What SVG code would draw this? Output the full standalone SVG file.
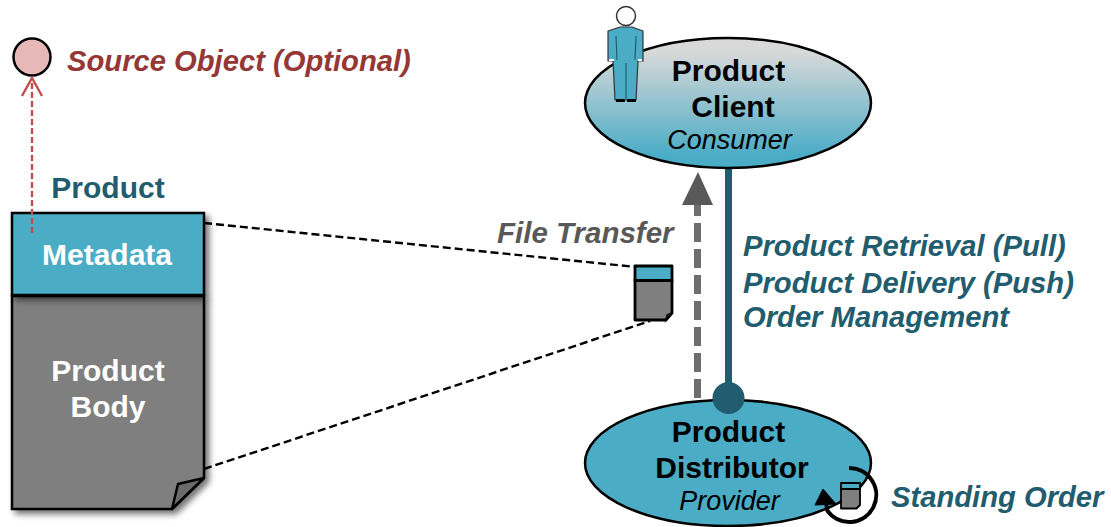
<svg xmlns="http://www.w3.org/2000/svg" width="1111" height="527" viewBox="0 0 1111 527">
<style>
text{font-family:"Liberation Sans",Arial,sans-serif}
.b{font-weight:700;font-size:30px;fill:#000;text-anchor:middle}
.i{font-style:italic;font-size:27px;fill:#000;text-anchor:middle}
.w{font-weight:700;font-size:30px;fill:#fff;text-anchor:middle}
.t{font-weight:700;font-style:italic;font-size:29.200px;fill:#215d6e}
</style>
<defs>
<linearGradient id="g" x1="0" y1="0" x2="0" y2="1"><stop offset="0.1" stop-color="#d9d9d9"/><stop offset="0.9" stop-color="#4bacc6"/></linearGradient>
<filter id="s" x="-10%" y="-10%" width="125%" height="125%"><feGaussianBlur in="SourceAlpha" stdDeviation="3"/><feOffset dx="4" dy="4"/><feComponentTransfer><feFuncA type="linear" slope="0.55"/></feComponentTransfer><feMerge><feMergeNode/><feMergeNode in="SourceGraphic"/></feMerge></filter>
<marker id="o" markerUnits="userSpaceOnUse" markerWidth="24" markerHeight="24" refX="21" refY="11" orient="auto"><path d="M3 1L21 11L3 21" fill="none" stroke="#c0504d" stroke-width="2.400"/></marker>
</defs>
<g id="connectors">
<path d="M204 223L636 267M204 469L650 321" fill="none" stroke="#000" stroke-width="2.400" stroke-dasharray="8 4"/>
<path d="M697.500 398V200" fill="none" stroke="#6e6e6e" stroke-width="7" stroke-dasharray="19 7"/>
<path d="M698 172L682 205H713Z" fill="#595959"/>
<path d="M728.500 168V392" fill="none" stroke="#215d6e" stroke-width="7"/>
</g>
<g id="source-object">
<circle cx="32" cy="57" r="18.500" fill="#e6b8b7" stroke="#000" stroke-width="2.500"/>
<text x="67" y="70.500" class="t" style="fill:#953735">Source Object (Optional)</text>
</g>
<g id="product">
<text x="108" y="197.500" class="b" style="fill:#215d6e">Product</text>
<path d="M12 296H204V478L172 509H12Z" fill="#7f7f7f" stroke="#000" stroke-width="2.500" filter="url(#s)"/>
<path d="M172 509L178 484L204 478Z" fill="#6b6b6b" stroke="#000" stroke-width="2.500" stroke-linejoin="round"/>
<rect x="12" y="213" width="192" height="82" fill="#4bacc6" stroke="#000" stroke-width="2.500" filter="url(#s)"/>
<text x="107" y="265" class="w">Metadata</text>
<text x="108" y="381" class="w">Product</text>
<text x="108" y="417" class="w">Body</text>
</g>
<path d="M32 233V78" fill="none" stroke="#c0504d" stroke-width="2.400" stroke-dasharray="6 3" marker-end="url(#o)"/>
<g id="file-transfer">
<text x="497" y="243" class="t" style="fill:#595959;font-size:29.500px">File Transfer</text>
<path d="M635 280H672V313L666 320H635Z" fill="#7f7f7f" stroke="#000" stroke-width="2.800" stroke-linejoin="round"/>
<rect x="635" y="266" width="37" height="14.500" fill="#4bacc6" stroke="#000" stroke-width="2.800" stroke-linejoin="round"/>
<path d="M666 320L667 315L672 313Z" fill="#333" stroke="#000" stroke-width="1.500"/>
</g>
<g id="product-client">
<ellipse cx="728" cy="103" rx="143" ry="65" fill="url(#g)" stroke="#000" stroke-width="2.500"/>
<text x="728.500" y="81" class="b">Product</text>
<text x="733" y="117" class="b">Client</text>
<text x="729.500" y="148.500" class="i">Consumer</text>
</g>
<g id="person">
<circle cx="626" cy="16" r="9.500" fill="#fff" stroke="#333" stroke-width="1.500"/>
<path d="M608 31L620 27H632L643 31L643 61H638L636 100H615L613 61H608Z" fill="#4bacc6" stroke="#333" stroke-width="1.200" stroke-linejoin="round"/>
<path d="M616 36L617 60M636 36L635 60M626 63V99" fill="none" stroke="#215d6e" stroke-width="1.200"/>
<path d="M609 60H614M638 60H642" stroke="#fff" stroke-width="2"/>
<path d="M616 100.500H625M627 100.500H636" stroke="#000" stroke-width="3"/>
</g>
<g id="links-label">
<text x="743" y="255.500" class="t">Product Retrieval (Pull)</text>
<text x="743" y="292.500" class="t">Product Delivery (Push)</text>
<text x="743" y="326.500" class="t">Order Management</text>
</g>
<g id="product-distributor">
<ellipse cx="728" cy="463" rx="143" ry="63" fill="#4bacc6" stroke="#000" stroke-width="2.500"/>
<circle cx="728.500" cy="398" r="16" fill="#215d6e"/>
<text x="728.500" y="442" class="b">Product</text>
<text x="732" y="478" class="b">Distributor</text>
<text x="729.500" y="509.500" class="i">Provider</text>
</g>
<g id="standing-order">
<path d="M849 468A27 27 0 1 1 827.500 511L826 503" fill="none" stroke="#000" stroke-width="4"/>
<path d="M823 489L815 505L836 504Z" fill="#000" stroke="#000" stroke-width="1" stroke-linejoin="round"/>
<path d="M841 489H860V505L856.500 508.500H841Z" fill="#7f7f7f" stroke="#000" stroke-width="1.800" stroke-linejoin="round"/>
<rect x="841" y="483" width="19" height="6" fill="#4bacc6" stroke="#000" stroke-width="1.800" stroke-linejoin="round"/>
<text x="891" y="507" class="t">Standing Order</text>
</g>
</svg>
